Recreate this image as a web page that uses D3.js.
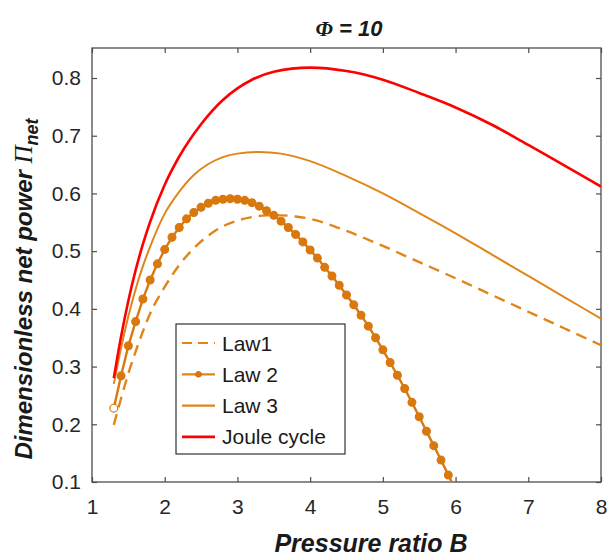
<!DOCTYPE html>
<html>
<head>
<meta charset="utf-8">
<style>
  body { margin: 0; background: #fff; }
  svg { font-family: "Liberation Sans", Arial, sans-serif; }
  .tick text { font-size: 21px; fill: #262626; }
  .tick line { stroke: #4d4d4d; stroke-width: 1.2; }
</style>
</head>
<body>
<svg id="chart" width="612" height="556"></svg>
<script src="https://cdn.jsdelivr.net/npm/d3@7"></script>
<script>
// values
let xTicks = [1, 2, 3, 4, 5, 6, 7, 8]
let yTicks = [0.1, 0.2, 0.3, 0.4, 0.5, 0.6, 0.7, 0.8]
let seriesNames = ["Law1", "Law 2", "Law 3", "Joule cycle"]

let law1B = [1.3, 1.4, 1.5, 1.6, 1.7, 1.8, 2.0, 2.2, 2.4, 2.6, 2.8, 3.0, 3.2, 3.4, 3.6, 3.8, 4.0, 4.5, 5.0, 5.5, 6.0, 6.5, 7.0, 7.5, 8.0]
let law1 = [0.199, 0.245, 0.288, 0.326, 0.361, 0.392, 0.438, 0.476, 0.505, 0.527, 0.543, 0.553, 0.559, 0.562, 0.562, 0.560, 0.556, 0.535, 0.509, 0.481, 0.453, 0.424, 0.395, 0.366, 0.337]

let law2B = [1.3, 1.4, 1.5, 1.6, 1.7, 1.8, 1.9, 2.0, 2.1, 2.2, 2.3, 2.4, 2.5, 2.6, 2.7, 2.8, 2.9, 3.0, 3.1, 3.2,
             3.3, 3.4, 3.5, 3.6, 3.7, 3.8, 3.9, 4.0, 4.1, 4.2, 4.3, 4.4, 4.5, 4.6, 4.7, 4.8, 4.9, 5.0, 5.1, 5.2,
             5.3, 5.4, 5.5, 5.6, 5.7, 5.8, 5.9, 6.0]
let law2 = [0.228, 0.284, 0.336, 0.378, 0.417, 0.450, 0.478, 0.503, 0.524, 0.541, 0.556, 0.567, 0.576, 0.583, 0.588, 0.590, 0.591, 0.590, 0.588, 0.584,
            0.578, 0.570, 0.562, 0.552, 0.541, 0.529, 0.516, 0.502, 0.488, 0.472, 0.457, 0.441, 0.424, 0.407, 0.389, 0.370, 0.350, 0.329, 0.307, 0.285,
            0.262, 0.238, 0.213, 0.188, 0.163, 0.138, 0.112, 0.086]

let law3B = [1.3, 1.4, 1.5, 1.6, 1.7, 1.8, 2.0, 2.2, 2.4, 2.6, 2.8, 3.0, 3.3, 3.6, 4.0, 4.5, 5.0, 5.5, 6.0, 6.5, 7.0, 7.5, 8.0]
let law3 = [0.270, 0.332, 0.387, 0.434, 0.474, 0.508, 0.565, 0.603, 0.632, 0.651, 0.663, 0.669, 0.672, 0.669, 0.656, 0.630, 0.600, 0.566, 0.531, 0.494, 0.457, 0.420, 0.383]

let jouleB = [1.3, 1.4, 1.5, 1.6, 1.7, 1.8, 2.0, 2.2, 2.5, 2.8, 3.0, 3.2, 3.5, 4.0, 4.5, 5.0, 5.5, 6.0, 6.5, 7.0, 7.5, 8.0]
let joule = [0.280, 0.352, 0.414, 0.467, 0.512, 0.551, 0.615, 0.664, 0.720, 0.762, 0.782, 0.797, 0.811, 0.818, 0.812, 0.797, 0.774, 0.749, 0.719, 0.684, 0.648, 0.612]

let orange = "#e08619"
let red = "#ff0000"

let svg = d3.select("#chart")
let plotLeft = 92, plotRight = 601, plotTop = 48, plotBottom = 482

let xScale = d3.scaleLinear().domain([1, 8]).range([plotLeft, plotRight])
let yScale = d3.scaleLinear().domain([0.1, 0.852]).range([plotBottom, plotTop])

let pts = (xs, ys) => xs.map((b, i) => ({ b: b, v: ys[i] }))

svg.append("clipPath").attr("id", "plotClip")
   .append("rect")
   .attr("x", plotLeft).attr("y", plotTop)
   .attr("width", plotRight - plotLeft).attr("height", plotBottom - plotTop)

// axes, ticks pointing inwards on all four sides
svg.append("g")
   .attr("transform", "translate(0," + plotBottom + ")")
   .call(d3.axisBottom(xScale).tickValues(xTicks).tickFormat(d3.format("d"))
           .tickSizeInner(-5).tickSizeOuter(0).tickPadding(17))
svg.append("g")
   .attr("transform", "translate(0," + plotTop + ")")
   .call(d3.axisTop(xScale).tickValues(xTicks).tickFormat("")
           .tickSizeInner(-5).tickSizeOuter(0))
svg.append("g")
   .attr("transform", "translate(" + plotLeft + ",0)")
   .call(d3.axisLeft(yScale).tickValues(yTicks).tickFormat(d3.format(".1f"))
           .tickSizeInner(-5).tickSizeOuter(0).tickPadding(11))
svg.append("g")
   .attr("transform", "translate(" + plotRight + ",0)")
   .call(d3.axisRight(yScale).tickValues(yTicks).tickFormat("")
           .tickSizeInner(-5).tickSizeOuter(0))
svg.selectAll(".domain").remove()

svg.append("rect")
   .attr("x", plotLeft).attr("y", plotTop)
   .attr("width", plotRight - plotLeft).attr("height", plotBottom - plotTop)
   .attr("fill", "none").attr("stroke", "#4d4d4d").attr("stroke-width", 1.3)

let smooth = d3.line().x(d => xScale(d.b)).y(d => yScale(d.v)).curve(d3.curveMonotoneX)
let straight = d3.line().x(d => xScale(d.b)).y(d => yScale(d.v))

let plot = svg.append("g").attr("clip-path", "url(#plotClip)")

plot.append("path").datum(pts(law1B, law1))
    .attr("d", smooth).attr("fill", "none")
    .attr("stroke", orange).attr("stroke-width", 2.4).attr("stroke-dasharray", "11,7")

plot.append("path").datum(pts(law3B, law3))
    .attr("d", smooth).attr("fill", "none")
    .attr("stroke", orange).attr("stroke-width", 2)

let law2Pts = pts(law2B, law2)
plot.append("path").datum(law2Pts)
    .attr("d", straight).attr("fill", "none")
    .attr("stroke", "#d9780e").attr("stroke-width", 2.4)
plot.selectAll(".mark").data(law2Pts).enter().append("circle")
    .attr("class", "mark")
    .attr("cx", d => xScale(d.b)).attr("cy", d => yScale(d.v))
    .attr("r", 3.9)
    .attr("fill", (d, i) => i == 0 ? "#fff" : "#d9780e")
    .attr("stroke", "#d9780e").attr("stroke-width", 1.2)

plot.append("path").datum(pts(jouleB, joule))
    .attr("d", smooth).attr("fill", "none")
    .attr("stroke", red).attr("stroke-width", 2.6)

// legend
let legend = svg.append("g").attr("transform", "translate(176,324)")
legend.append("rect").attr("width", 169).attr("height", 130)
      .attr("fill", "#fff").attr("stroke", "#333").attr("stroke-width", 1.2)
let rows = legend.selectAll(".row").data(seriesNames).enter().append("g")
      .attr("transform", (d, i) => "translate(0," + (19 + i * 31.3) + ")")
rows.append("line").attr("x1", 6).attr("x2", 39)
    .attr("stroke", (d, i) => i == 3 ? red : orange)
    .attr("stroke-width", (d, i) => i == 3 ? 2.6 : 2.2)
    .attr("stroke-dasharray", (d, i) => i == 0 ? "10,6" : null)
rows.filter((d, i) => i == 1).append("circle")
    .attr("cx", 22.5).attr("r", 2.8)
    .attr("fill", "#d9780e").attr("stroke", "#c96d0a").attr("stroke-width", 1)
rows.append("text").attr("x", 46).attr("y", 7.5)
    .style("font-size", "21px").attr("fill", "#1a1a1a")
    .text(d => d)

// title and axis labels
let title = svg.append("text").attr("x", 349).attr("y", 36)
   .attr("text-anchor", "middle").style("font-size", "22px")
   .style("font-weight", "bold").style("font-style", "italic").attr("fill", "#1a1a1a")
title.append("tspan").style("font-family", "'Liberation Serif', serif").text("\u03A6")
title.append("tspan").text(" = 10")

svg.append("text").attr("x", 371).attr("y", 552)
   .attr("text-anchor", "middle").style("font-size", "25px")
   .style("font-weight", "bold").style("font-style", "italic").attr("fill", "#1a1a1a")
   .text("Pressure ratio B")

let yLabel = svg.append("text")
   .attr("transform", "translate(32,289) rotate(-90)")
   .attr("text-anchor", "middle").style("font-size", "24px")
   .style("font-weight", "bold").style("font-style", "italic").attr("fill", "#1a1a1a")
yLabel.append("tspan").text("Dimensionless net power ")
yLabel.append("tspan").style("font-family", "'Liberation Serif', serif")
      .style("font-weight", "normal").style("font-size", "25px").text("\u03A0")
yLabel.append("tspan").attr("dy", 6).style("font-size", "18px").text("net")
</script>
</body>
</html>
